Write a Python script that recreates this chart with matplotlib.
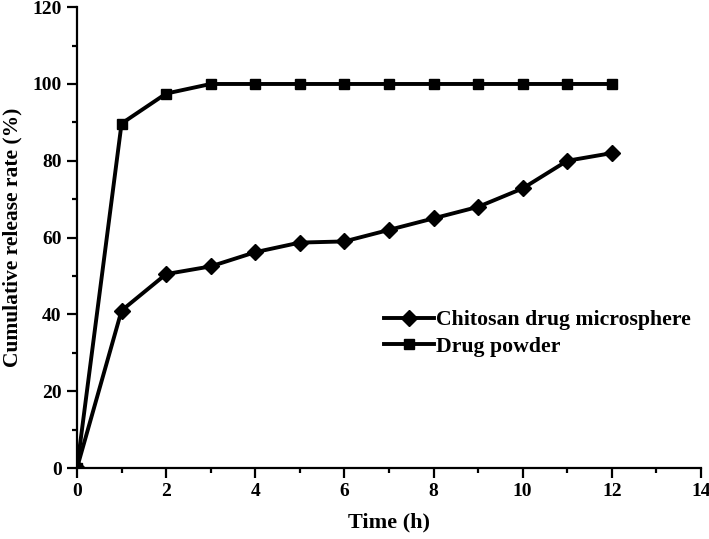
import matplotlib.pyplot as plt
from matplotlib.ticker import MultipleLocator

# release data
time_h = [0, 1, 2, 3, 4, 5, 6, 7, 8, 9, 10, 11, 12]
microsphere = [0, 41, 50.5, 52.5, 56.2, 58.7, 59, 62, 65, 68, 72.8, 80, 82]
powder = [0, 89.7, 97.5, 100, 100, 100, 100, 100, 100, 100, 100, 100, 100]

plt.rcParams['font.family'] = ['Liberation Serif', 'DejaVu Serif']
plt.rcParams['font.weight'] = 'bold'

fig = plt.figure(figsize=(7.09, 5.39), dpi=100)
ax = fig.add_axes([0.1086, 0.1317, 0.880, 0.855])

ax.plot(time_h, microsphere, color='black', lw=2.8, marker='D', ms=8,
        label='Chitosan drug microsphere')
ax.plot(time_h, powder, color='black', lw=2.8, marker='s', ms=7.5,
        label='Drug powder')

ax.set_xlim(0, 14)
ax.set_ylim(0, 120)
ax.xaxis.set_major_locator(MultipleLocator(2))
ax.xaxis.set_minor_locator(MultipleLocator(1))
ax.yaxis.set_major_locator(MultipleLocator(20))
ax.yaxis.set_minor_locator(MultipleLocator(10))

ax.spines['top'].set_visible(False)
ax.spines['right'].set_visible(False)
for s in ('left', 'bottom'):
    ax.spines[s].set_linewidth(1.6)
ax.tick_params(which='major', direction='out', length=7, width=1.6,
               labelsize=14, pad=4)
ax.tick_params(which='minor', direction='out', length=3.5, width=1.6)
for lbl in ax.get_xticklabels() + ax.get_yticklabels():
    lbl.set_fontweight('bold')

ax.set_xlabel('Time (h)', fontsize=16, fontweight='bold', labelpad=9)
ax.set_ylabel('Cumulative release rate (%)', fontsize=15.5, fontweight='bold', labelpad=7)

leg = ax.legend(loc='upper left', bbox_to_anchor=(0.478, 0.362), frameon=False,
                prop={'size': 15.7, 'weight': 'bold'}, handlelength=2.3,
                handletextpad=0.1, labelspacing=0.3, borderaxespad=0)

fig.savefig('out.png', dpi=100)
